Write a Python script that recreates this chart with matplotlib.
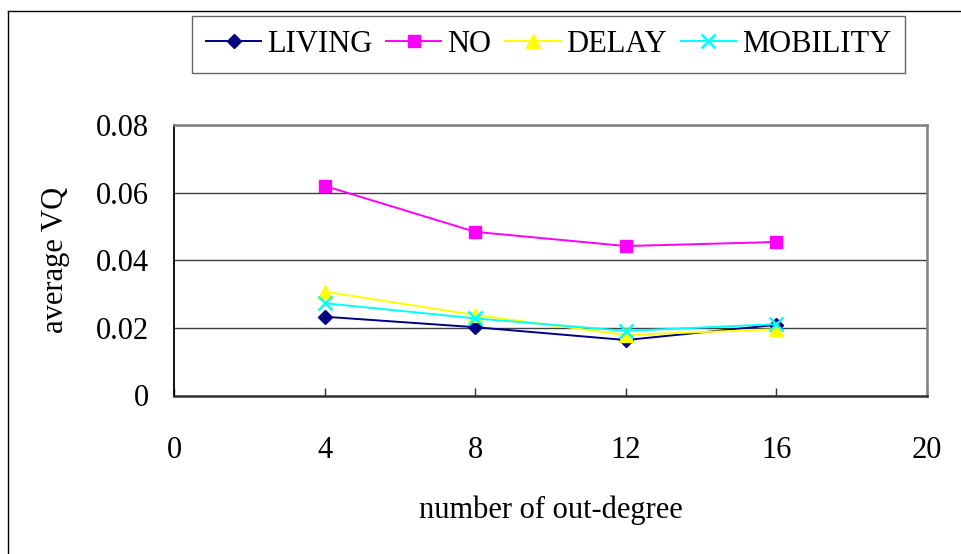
import matplotlib
matplotlib.use("Agg")
import matplotlib.pyplot as plt
from matplotlib.lines import Line2D

plt.rcParams['font.family'] = ['Liberation Serif', 'DejaVu Serif']

# Data
out_degree = [4, 8, 12, 16]
living = [0.0233, 0.0202, 0.0164, 0.0209]
no_scheme = [0.0620, 0.0484, 0.0442, 0.0454]
delay = [0.0307, 0.0238, 0.0179, 0.0196]
mobility = [0.0273, 0.0228, 0.0191, 0.0211]

series_names = ["LIVING", "NO", "DELAY", "MOBILITY"]
x_ticks = [0, 4, 8, 12, 16, 20]
y_ticks = [0, 0.02, 0.04, 0.06, 0.08]
y_tick_labels = ["0", "0.02", "0.04", "0.06", "0.08"]

W, H = 961, 554
fig = plt.figure(figsize=(W / 100, H / 100), dpi=100)
fig.patch.set_facecolor("white")

# outer chart frame (top and left edges)
fig.add_artist(Line2D([8 / W, 1.0], [1 - 11 / H, 1 - 11 / H], color="black", lw=1.0))
fig.add_artist(Line2D([8 / W, 8 / W], [0.0, 1 - 11 / H], color="black", lw=1.0))

left, right = 174 / W, 927 / W
bottom, top = 1 - 395.5 / H, 1 - 125 / H
ax = fig.add_axes([left, bottom, right - left, top - bottom])

fs = 22
styles = [
    (living, "#000080", "D", 7.5, 1.0),
    (no_scheme, "#FF00FF", "s", 9.0, 1.0),
    (delay, "#FFFF00", "^", 10.0, 1.0),
    (mobility, "#00FFFF", "x", 9.5, 1.8),
]
for (vals, col, mk, ms, mew), name in zip(styles, series_names):
    ax.plot(out_degree, vals, color=col, lw=1.4, marker=mk, ms=ms,
            markerfacecolor=col, markeredgecolor=col, markeredgewidth=mew,
            label=name, zorder=3)

ax.set_xlim(0, 20)
ax.set_ylim(0, 0.08)
ax.set_xticks(x_ticks)
ax.set_yticks(y_ticks)
ax.set_yticklabels(y_tick_labels)

ax.grid(axis="y", color="#404040", lw=1.0, zorder=1)
ax.set_axisbelow(True)

for side in ("top", "right"):
    ax.spines[side].set_color("#808080")
    ax.spines[side].set_linewidth(1.8)
ax.spines["left"].set_color("black")
ax.spines["left"].set_linewidth(1.3)
ax.spines["bottom"].set_color("#303030")
ax.spines["bottom"].set_linewidth(1.8)

ax.tick_params(axis="x", direction="in", length=6, width=1.0, color="#303030",
               labelsize=fs, pad=29)
ax.tick_params(axis="y", length=0, labelsize=fs, pad=18)

ax.set_xlabel("number of out-degree", fontsize=fs)
ax.set_ylabel("average VQ", fontsize=fs)
ax.xaxis.set_label_coords(0.5, -0.423)
ax.yaxis.set_label_coords(-0.158, 0.5)
ax.xaxis.label.set_va("center")
ax.yaxis.label.set_va("center")

leg = fig.legend(loc="center", bbox_to_anchor=(548.5 / W, 1 - 44.5 / H),
                 ncol=4, fontsize=fs, frameon=True, fancybox=False,
                 handlelength=1.8, handletextpad=0.2, columnspacing=0.45,
                 borderpad=0.45)
leg.get_frame().set_edgecolor("#404040")
leg.get_frame().set_linewidth(1.0)

fig.savefig("out.png", dpi=100)
